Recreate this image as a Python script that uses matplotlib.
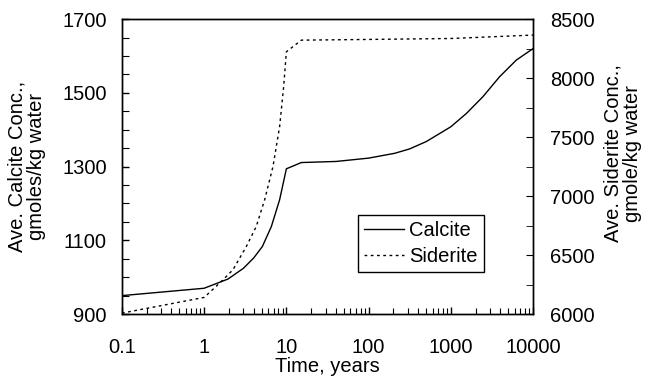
import numpy as np
import matplotlib.pyplot as plt
from matplotlib.ticker import MultipleLocator, FixedLocator, FixedFormatter, LogLocator, NullFormatter

plt.rcParams['font.family'] = ['Liberation Sans', 'DejaVu Sans']

# Calcite (left axis)
calcite_t = [0.1, 1, 1.95, 3.0, 4.0, 5.1, 6.56, 8.28, 10, 15.2, 40.5, 100,
             207, 316, 504, 1000, 1545, 2466, 3930, 6270, 10000]
calcite_c = [950, 970, 995, 1024, 1052, 1083, 1137, 1210, 1294, 1311, 1314, 1323,
             1336, 1348, 1368, 1408, 1444, 1490, 1544, 1589, 1620]

# Siderite (right axis)
siderite_t = [0.1, 1, 1.54, 2.24, 3.26, 4.3, 5.44, 6.87, 8.28, 9.27, 10, 15.2,
              100, 1000, 10000]
siderite_c = [6008, 6141, 6262, 6375, 6573, 6742, 6968, 7250, 7589, 7927, 8223, 8322,
              8328, 8336, 8365]

x_ticks = [0.1, 1, 10, 100, 1000, 10000]
x_labels = ['0.1', '1', '10', '100', '1000', '10000']
calcite_ticks = [900, 1100, 1300, 1500, 1700]

fig, ax = plt.subplots(figsize=(6.52, 3.83), dpi=100)
fig.subplots_adjust(left=0.187, right=0.8175, top=0.950, bottom=0.180)
ax2 = ax.twinx()

l1, = ax.plot(calcite_t, calcite_c, color='black', lw=1.0, label='Calcite')
l2, = ax2.plot(siderite_t, siderite_c, color='black', lw=1.0,
               linestyle=(0, (2, 2.5)), label='Siderite')

ax.set_xscale('log')
ax.set_xlim(0.1, 10000)
ax.set_ylim(900, 1700)
ax2.set_ylim(6000, 8500)

ax.xaxis.set_major_locator(FixedLocator(x_ticks))
ax.xaxis.set_major_formatter(FixedFormatter(x_labels))
ax.xaxis.set_minor_locator(LogLocator(base=10, subs=np.arange(2, 10)))
ax.xaxis.set_minor_formatter(NullFormatter())

ax.yaxis.set_major_locator(FixedLocator(calcite_ticks))
ax.yaxis.set_minor_locator(MultipleLocator(50))
ax2.yaxis.set_major_locator(MultipleLocator(500))
ax2.yaxis.set_minor_locator(MultipleLocator(250))

fs = 14.5
ax.tick_params(axis='both', which='both', direction='in', labelsize=fs, top=False)
ax.tick_params(axis='y', which='both', right=False)
ax.tick_params(which='major', length=5, width=1)
ax.tick_params(which='minor', length=5, width=0.8)
ax.tick_params(axis='y', which='major', pad=11)
ax.tick_params(axis='x', which='major', pad=17)
ax.tick_params(axis='x', which='minor', length=4)
ax2.tick_params(axis='y', which='both', direction='in', labelsize=fs, length=5, pad=12)

for a in (ax, ax2):
    for s in a.spines.values():
        s.set_linewidth(1.0)

ax.set_xlabel('Time, years', fontsize=fs, labelpad=0)
ax.set_ylabel('Ave. Calcite Conc.,\ngmoles/kg water', fontsize=fs, linespacing=1.0)
ax2.set_ylabel('Ave. Siderite Conc.,\ngmole/kg water', fontsize=fs, linespacing=1.0)
ax.yaxis.set_label_coords(-0.185, 0.5)
ax2.yaxis.set_label_coords(1.172, 0.545)

leg = ax.legend(handles=[l1, l2], loc='lower left', bbox_to_anchor=(0.574, 0.142),
                borderaxespad=0, fontsize=fs, frameon=True, fancybox=False,
                framealpha=1, edgecolor='black', handlelength=2.0, handletextpad=0.25,
                borderpad=0.3, labelspacing=0.35)
leg.get_frame().set_linewidth(1.0)

plt.savefig('out.png', dpi=100)
